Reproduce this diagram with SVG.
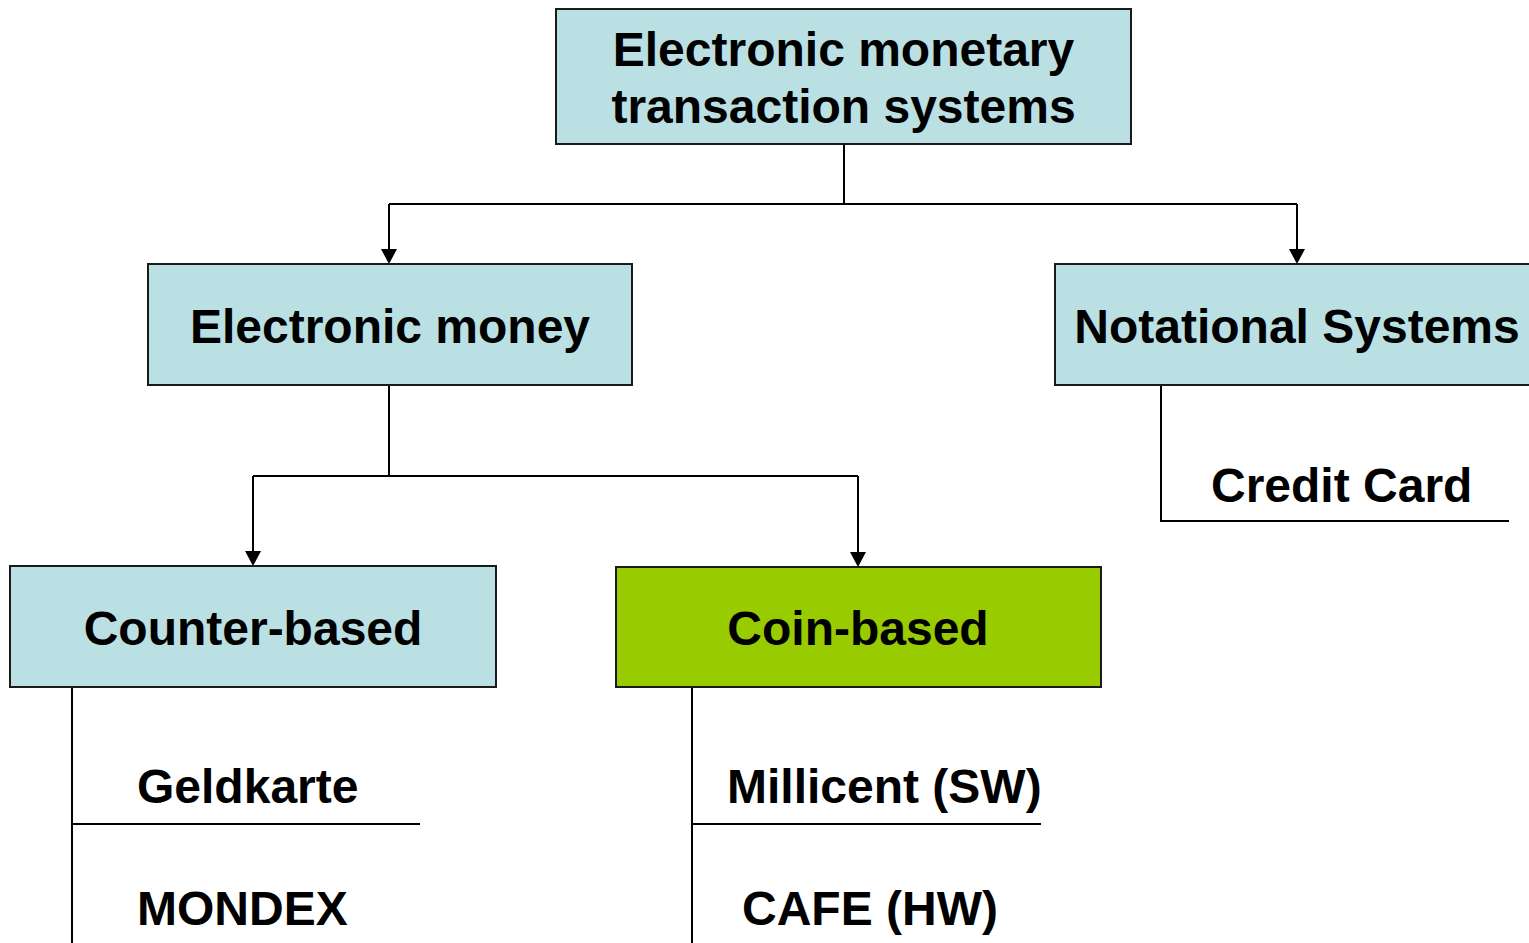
<svg xmlns="http://www.w3.org/2000/svg" width="1529" height="943" viewBox="0 0 1529 943">
<defs>
<style>
.box{fill:#BAE0E4;stroke:#1a1a1a;stroke-width:2}
.green{fill:#99CC00;stroke:#1a1a1a;stroke-width:2}
.t{font-family:"Liberation Sans",Arial,sans-serif;font-weight:bold;font-size:48px;fill:#000}
.c{text-anchor:middle}
.ln{fill:none;stroke:#000;stroke-width:2}
.ah{fill:#000}
</style>
</defs>
<rect width="1529" height="943" fill="#fff"/>
<g id="connectors">
<path class="ln" d="M844,144 V204"/>
<path class="ln" d="M389,204 H1297"/>
<path class="ln" d="M389,204 V250"/>
<path class="ah" d="M381,249 H397 L389,264 Z"/>
<path class="ln" d="M1297,204 V250"/>
<path class="ah" d="M1289,249 H1305 L1297,264 Z"/>
<path class="ln" d="M389,385 V476"/>
<path class="ln" d="M253,476 H858"/>
<path class="ln" d="M253,476 V552"/>
<path class="ah" d="M245,551 H261 L253,566 Z"/>
<path class="ln" d="M858,476 V553"/>
<path class="ah" d="M850,552 H866 L858,567 Z"/>
<path class="ln" d="M1161,385 V521 H1509"/>
<path class="ln" d="M72,687 V943"/>
<path class="ln" d="M72,824 H420"/>
<path class="ln" d="M692,687 V943"/>
<path class="ln" d="M692,824 H1041"/>
</g>
<g id="n-root">
<rect class="box" x="556" y="9" width="575" height="135"/>
<text class="t c" x="843.5" y="66">Electronic monetary</text>
<text class="t c" x="843.5" y="123">transaction systems</text>
</g>
<g id="n-emoney">
<rect class="box" x="148" y="264" width="484" height="121"/>
<text class="t c" x="390" y="343">Electronic money</text>
</g>
<g id="n-notational">
<rect class="box" x="1055" y="264" width="490" height="121"/>
<text class="t c" x="1297" y="343">Notational Systems</text>
</g>
<g id="n-credit">
<text class="t" x="1211" y="502">Credit Card</text>
</g>
<g id="n-counter">
<rect class="box" x="10" y="566" width="486" height="121"/>
<text class="t c" x="253" y="645">Counter-based</text>
</g>
<g id="n-coin">
<rect class="green" x="616" y="567" width="485" height="120"/>
<text class="t c" x="858" y="645">Coin-based</text>
</g>
<g id="n-geldkarte">
<text class="t" x="137" y="803">Geldkarte</text>
</g>
<g id="n-mondex">
<text class="t" x="137" y="925">MONDEX</text>
</g>
<g id="n-millicent">
<text class="t" x="727" y="803">Millicent (SW)</text>
</g>
<g id="n-cafe">
<text class="t" x="742" y="925">CAFE (HW)</text>
</g>
</svg>
